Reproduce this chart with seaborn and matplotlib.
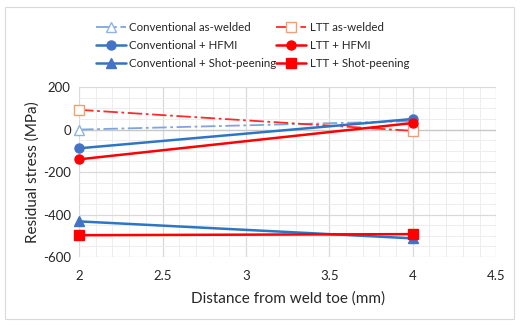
import matplotlib
matplotlib.use("Agg")
import matplotlib.pyplot as plt
from matplotlib.ticker import MultipleLocator
from matplotlib.patches import Rectangle
import pandas as pd
import seaborn as sns

# Distance from weld toe (mm)
distance = [2, 4]

# Residual stress (MPa) for each weld condition
conv_as_welded = [0, 40]
ltt_as_welded = [93, -6]
conv_hfmi = [-88, 50]
ltt_hfmi = [-140, 31]
conv_shot = [-432, -512]
ltt_shot = [-497, -492]

series_names = [
    "Conventional as-welded", "LTT as-welded",
    "Conventional + HFMI", "LTT + HFMI",
    "Conventional + Shot-peening", "LTT + Shot-peening",
]
series_values = [conv_as_welded, ltt_as_welded, conv_hfmi, ltt_hfmi, conv_shot, ltt_shot]

x_ticks = [2, 2.5, 3, 3.5, 4, 4.5]
x_tick_labels = ["2", "2.5", "3", "3.5", "4", "4.5"]
y_ticks = [200, 0, -200, -400, -600]
y_tick_labels = ["200", "0", "-200", "-400", "-600"]

sns.set_theme(style="white")
plt.rcParams["font.family"] = ["Lato", "DejaVu Sans"]

dashdot = (0, (8, 2, 1.5, 2))
styles = {
    "Conventional as-welded": dict(color="#7EA6DC", linestyle=dashdot, lw=1.3,
                                   marker="^", mfc="white", mec="#8FB4E3", ms=6.5),
    "LTT as-welded": dict(color="#FF2A2A", linestyle=dashdot, lw=1.3,
                          marker="s", mfc="white", mec="#F0A070", ms=6.5),
    "Conventional + HFMI": dict(color="#2E75C6", linestyle="-", lw=1.8,
                                marker="o", mfc="#4472C4", mec="#4472C4", ms=6.5),
    "LTT + HFMI": dict(color="#FF0000", linestyle="-", lw=1.8,
                       marker="o", mfc="#FF0000", mec="#FF0000", ms=6.5),
    "Conventional + Shot-peening": dict(color="#2E75C6", linestyle="-", lw=1.8,
                                        marker="^", mfc="#4472C4", mec="#4472C4", ms=6.5),
    "LTT + Shot-peening": dict(color="#FF0000", linestyle="-", lw=1.8,
                               marker="s", mfc="#FF0000", mec="#FF0000", ms=6.5),
}

fig = plt.figure(figsize=(5.24, 3.25), dpi=100)
ax = fig.add_axes([0.151, 0.209, 0.796, 0.523])

for name, vals in zip(series_names, series_values):
    df = pd.DataFrame({"x": distance, "y": vals})
    st = styles[name]
    sns.lineplot(data=df, x="x", y="y", ax=ax, label=name, color=st["color"],
                 linewidth=st["lw"], linestyle=st["linestyle"], marker=st["marker"],
                 markersize=st["ms"], markerfacecolor=st["mfc"],
                 markeredgecolor=st["mec"], markeredgewidth=1.0, zorder=3,
                 clip_on=False)

ax.set_xlim(2, 4.5)
ax.set_ylim(-600, 200)
ax.set_xticks(x_ticks)
ax.set_xticklabels(x_tick_labels)
ax.set_yticks(y_ticks)
ax.set_yticklabels(y_tick_labels)
ax.xaxis.set_minor_locator(MultipleLocator(0.1))
ax.yaxis.set_minor_locator(MultipleLocator(50))
ax.grid(which="major", color="#D9D9D9", linewidth=0.9)
ax.grid(which="minor", color="#EDEDED", linewidth=0.7)
ax.axhline(0, color="#C8C8C8", linewidth=0.9, zorder=1)
ax.set_axisbelow(True)
for side in ["top", "right", "left", "bottom"]:
    ax.spines[side].set_visible(False)
ax.tick_params(axis="both", length=0, labelsize=9.5, colors="#262626")
ax.tick_params(axis="x", pad=9)
ax.tick_params(axis="y", pad=6)
ax.set_xlabel("Distance from weld toe (mm)", fontsize=11, color="#262626", labelpad=7)
ax.set_ylabel("Residual stress (MPa)", fontsize=11, color="#262626", labelpad=2)

# Legend laid out row by row: conventional on the left, LTT on the right
handles, labels = ax.get_legend_handles_labels()
order = [0, 2, 4, 1, 3, 5]
fig.legend([handles[i] for i in order], [labels[i] for i in order], ncol=2,
           loc="upper left", bbox_to_anchor=(0.163, 0.965),
           frameon=False, fontsize=8.3, handlelength=2.6, columnspacing=0.0,
           handletextpad=0.3, labelspacing=0.62, labelcolor="#262626")
ax.get_legend().remove()

fig.patches.append(Rectangle((0.01, 0.02), 0.97, 0.96, transform=fig.transFigure,
                             fill=False, edgecolor="#D9D9D9", linewidth=0.8))

fig.savefig("out.png", dpi=100)
